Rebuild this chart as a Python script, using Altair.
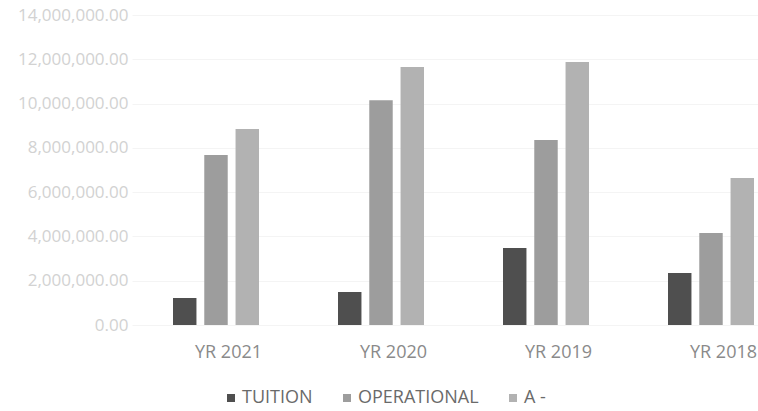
import altair as alt
import pandas as pd

years = ["YR 2021", "YR 2020", "YR 2019", "YR 2018"]
series = ["TUITION", "OPERATIONAL", "A -"]
tuition = [1220000, 1490000, 3480000, 2350000]
operational = [7680000, 10150000, 8360000, 4160000]
third = [8850000, 11650000, 11880000, 6640000]
colors = ["#4f4f4f", "#9d9d9d", "#b2b2b2"]
ticks = [0, 2000000, 4000000, 6000000, 8000000, 10000000, 12000000, 14000000]

rows = []
for name, vals in zip(series, [tuition, operational, third]):
    for y, v in zip(years, vals):
        rows.append({"year": y, "series": name, "value": v})
df = pd.DataFrame(rows)

font = "Open Sans"

chart = alt.Chart(df).mark_bar().encode(
    x=alt.X("year:N", sort=years, title=None,
            scale=alt.Scale(range=[0, 660], paddingInner=0, paddingOuter=0),
            axis=alt.Axis(labelAngle=0, domain=False, ticks=False, grid=False, labelPadding=18,
                          labelFontSize=18, labelColor="#8a8a8a", labelFont=font, labelOffset=14)),
    xOffset=alt.XOffset("series:N", sort=series,
                        scale=alt.Scale(range=[41, 127], paddingInner=0.25, paddingOuter=0)),
    y=alt.Y("value:Q", title=None,
            scale=alt.Scale(domain=[0, 14000000], nice=False),
            axis=alt.Axis(values=ticks, format=",.2f", domain=False, ticks=False, labelPadding=4,
                          labelFontSize=17, labelColor="#d2d2d2", labelFont=font,
                          gridColor="#f4f4f4")),
    color=alt.Color("series:N", sort=series,
                    scale=alt.Scale(domain=series, range=colors),
                    legend=alt.Legend(title=None, orient="none", direction="horizontal",
                                      legendX=90, legendY=374, symbolType="square",
                                      symbolSize=64, symbolStrokeWidth=0,
                                      labelFontSize=18, labelColor="#6a6a6a", labelFont=font,
                                      columnPadding=25, labelOffset=2)),
).properties(
    width=626, height=310,
    autosize=alt.AutoSizeParams(type="none"),
    padding={"left": 132, "top": 15, "right": 0, "bottom": 86},
).configure(background="white").configure_view(stroke=None)

chart.save("out.html", embed_options={"renderer": "svg", "actions": False})
